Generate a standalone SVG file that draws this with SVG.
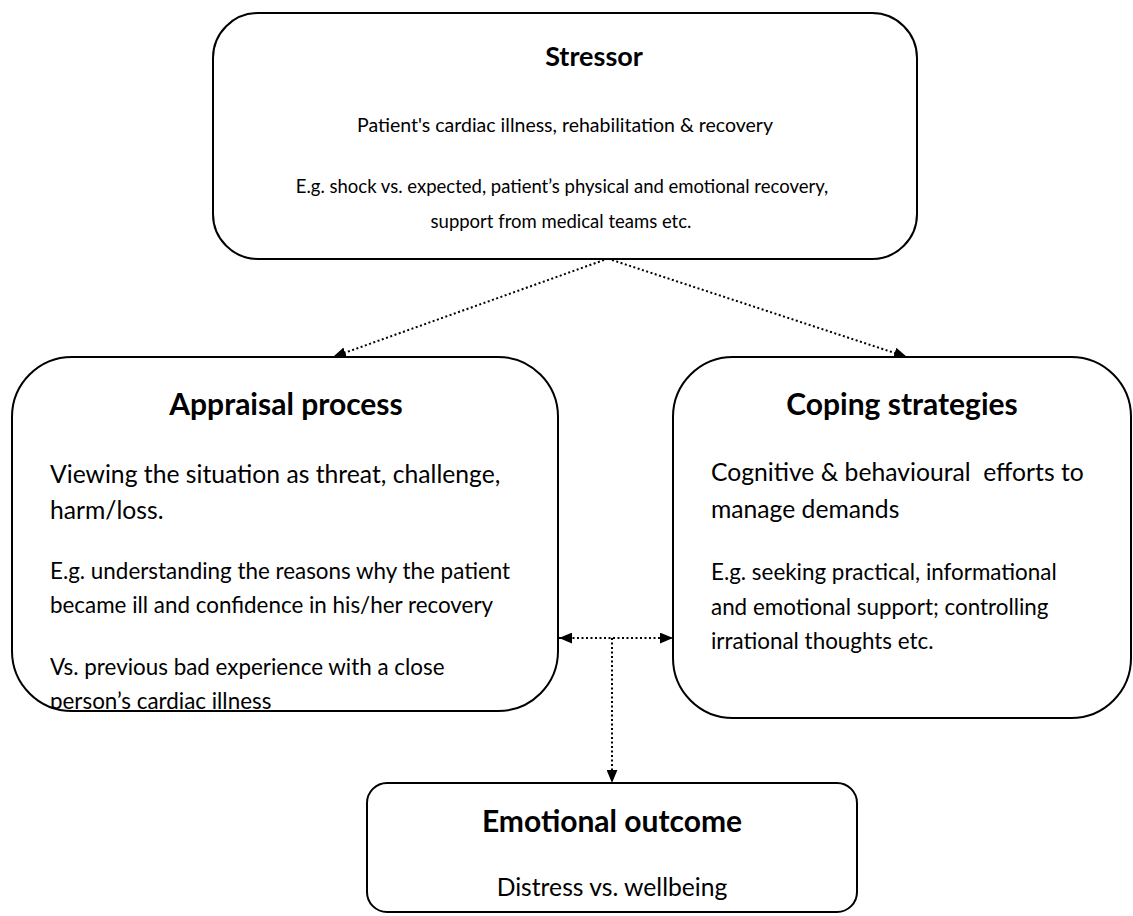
<svg xmlns="http://www.w3.org/2000/svg" width="1133" height="916" viewBox="0 0 1133 916">
<defs>
<style>
.box{fill:#fff;stroke:#000;stroke-width:2}
.t{font-family:Lato,"Liberation Sans",sans-serif;fill:#000}
.title{font-weight:bold;font-size:30px}
.body{font-size:24.7px}
.eg{font-size:22.4px}
.conn{fill:none;stroke:#000;stroke-width:2;stroke-dasharray:2 2.5}
</style>
<marker id="ah" viewBox="0 0 12 10" refX="12" refY="5" markerWidth="13" markerHeight="11" markerUnits="userSpaceOnUse" orient="auto-start-reverse">
<path d="M0,0 L12,5 L0,10 Z" fill="#000"/>
</marker>
<clipPath id="clipA"><rect x="0" y="0" width="1133" height="709"/></clipPath>
</defs>
<rect width="1133" height="916" fill="#fff"/>

<g id="stressor">
<rect class="box" x="213" y="13" width="704" height="246" rx="45" ry="45"/>
<text class="t" x="594" y="66" font-size="27" font-weight="bold" text-anchor="middle">Stressor</text>
<text class="t" x="565" y="132" font-size="19.5" text-anchor="middle">Patient's cardiac illness, rehabilitation &amp; recovery</text>
<text class="t" x="562" y="193" font-size="18.5" text-anchor="middle">E.g. shock vs. expected, patient’s physical and emotional recovery,</text>
<text class="t" x="561" y="228" font-size="18.5" text-anchor="middle">support from medical teams etc.</text>
</g>

<g id="appraisal">
<rect class="box" x="12" y="357" width="546" height="354" rx="60" ry="60"/>
<text class="t title" x="286" y="415" text-anchor="middle">Appraisal process</text>
<text class="t body" x="50" y="483">Viewing the situation as threat, challenge,</text>
<text class="t body" x="50" y="519">harm/loss.</text>
<text class="t eg" x="50" y="579">E.g. understanding the reasons why the patient</text>
<text class="t eg" x="50" y="613">became ill and confidence in his/her recovery</text>
<text class="t eg" x="50" y="675">Vs. previous bad experience with a close</text>
<text class="t eg" x="50" y="709" clip-path="url(#clipA)">person’s cardiac illness</text>
</g>

<g id="coping">
<rect class="box" x="673" y="357" width="458" height="361" rx="60" ry="60"/>
<text class="t title" x="902" y="415" text-anchor="middle">Coping strategies</text>
<text class="t body" x="711" y="481">Cognitive &amp; behavioural&#160; efforts to</text>
<text class="t body" x="711" y="518">manage demands</text>
<text class="t eg" x="711" y="580">E.g. seeking practical, informational</text>
<text class="t eg" x="711" y="615">and emotional support; controlling</text>
<text class="t eg" x="711" y="649">irrational thoughts etc.</text>
</g>

<g id="outcome">
<rect class="box" x="367" y="783" width="490" height="129" rx="20" ry="20"/>
<text class="t title" x="612" y="832" text-anchor="middle">Emotional outcome</text>
<text class="t body" x="612" y="896" text-anchor="middle">Distress vs. wellbeing</text>
</g>

<g id="connectors">
<line class="conn" x1="604" y1="260" x2="333" y2="357" marker-end="url(#ah)"/>
<line class="conn" x1="612" y1="260" x2="907" y2="357" marker-end="url(#ah)"/>
<line class="conn" x1="559" y1="638" x2="673" y2="638" marker-start="url(#ah)" marker-end="url(#ah)"/>
<line class="conn" x1="612" y1="638" x2="612" y2="783" marker-end="url(#ah)"/>
</g>
</svg>
